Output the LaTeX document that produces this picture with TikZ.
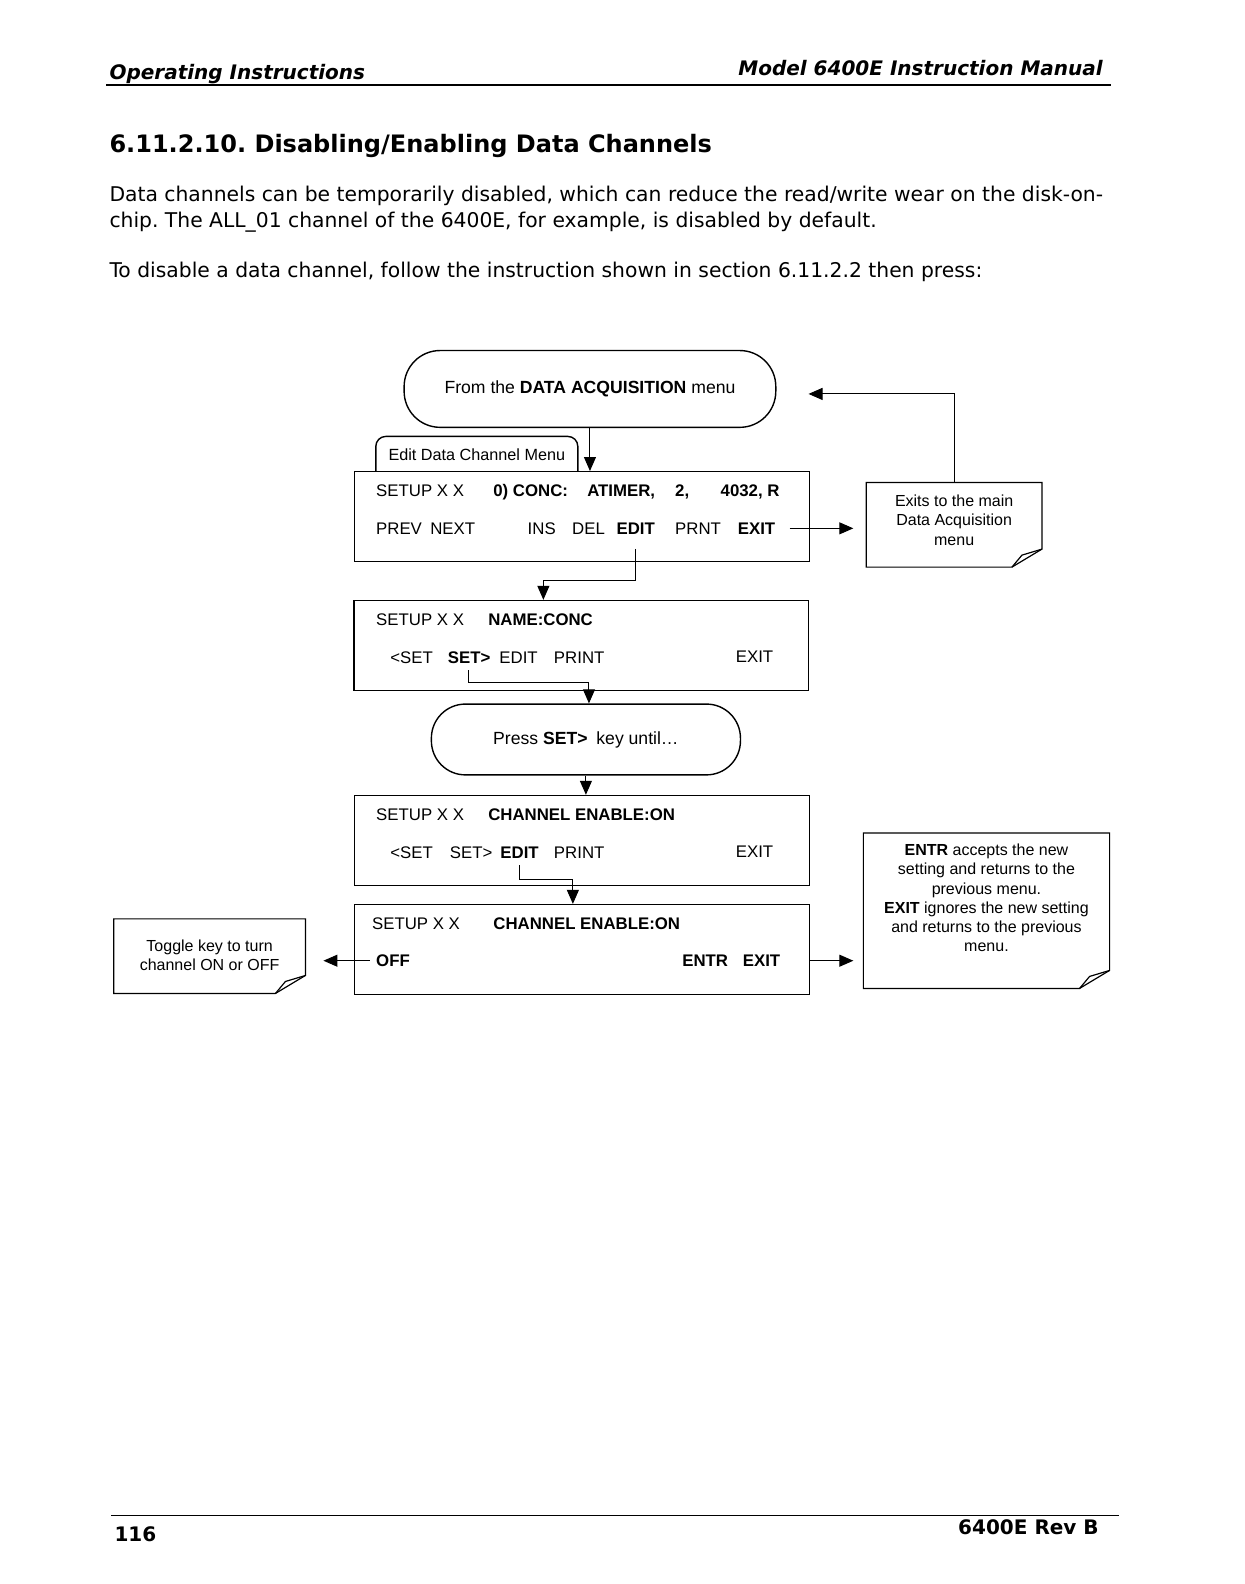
\documentclass[tikz,border=0pt]{standalone}
\usepackage{fontspec}
\setmainfont{DejaVu Sans}[BoldFont={DejaVu Sans Bold},ItalicFont={DejaVu Sans Oblique},BoldItalicFont={DejaVu Sans Bold Oblique}]
\newfontfamily\arialfont{Liberation Sans}
\usetikzlibrary{arrows.meta,calc}
\frenchspacing

\tikzset{
  lcdbox/.style={draw, line width=0.7pt, minimum width=227.3pt, minimum height=45pt, inner sep=0pt},
  ovalbox/.style={draw, line width=0.7pt, rounded corners=18pt, inner sep=0pt, font=\arialfont\fontsize{8.8}{10}\selectfont},
  lcdkey/.style={anchor=west, inner sep=0pt, text height=6pt, text depth=0pt, font=\arialfont\fontsize{8.4}{10}\selectfont},
  lcdbold/.style={lcdkey, font=\arialfont\bfseries\fontsize{8.4}{10}\selectfont},
  notebox/.style={inner sep=0pt},
  notetext/.style={align=center, inner sep=0pt, font=\arialfont\fontsize{8}{9.6}\selectfont},
  noteline/.style={line width=0.6pt},
  arr/.style={line width=0.5pt, -{Triangle[length=7pt,width=6pt]}},
  pagetext/.style={anchor=base west, inner sep=0pt, font=\fontsize{10.15}{12}\selectfont},
}

\begin{document}
\begin{tikzpicture}[x=0.505pt, y=-0.505pt]
\useasboundingbox (0,0) rectangle (1232,1568);

% page header
\node[anchor=base west, inner sep=0pt, font=\bfseries\itshape\fontsize{10}{12}\selectfont] (hleft) at (108,79) {Operating Instructions};
\node[anchor=base east, inner sep=0pt, font=\bfseries\itshape\fontsize{10}{12}\selectfont] (hright) at (1092,75) {Model 6400E Instruction Manual};
\draw[line width=0.7pt] (105,84) -- (1100,84);

% section title and text
\node[anchor=base west, inner sep=0pt, font=\bfseries\fontsize{12}{14}\selectfont] (title) at (108,151) {6.11.2.10. Disabling/Enabling Data Channels};
\node[pagetext] (par1a) at (108,199) {Data channels can be temporarily disabled, which can reduce the read/write wear on the disk-on-};
\node[pagetext] (par1b) at (108,225) {chip. The ALL\_01 channel of the 6400E, for example, is disabled by default.};
\node[pagetext] (par2) at (108,275) {To disable a data channel, follow the instruction shown in section 6.11.2.2 then press:};

% start oval and tab
\node[ovalbox, minimum width=185.8pt, minimum height=38.4pt] (from) at (584,385) {From the \textbf{DATA ACQUISITION} menu};
\draw[line width=0.7pt, rounded corners=5pt] (372,467) |- (572,432) -- (572,467); %tab
\node[lcdkey, anchor=center, font=\arialfont\fontsize{8.1}{10}\selectfont] (tab) at (472,450) {Edit Data Channel Menu};

% first display
\node[lcdbox] (menu1) at (576,511.5) {};
\node[lcdkey] (m1setup) at (372,486) {SETUP X X};
\node[lcdbold] (m1conc) at (488,486) {0) CONC:};
\node[lcdbold] (m1timer) at (581,486) {ATIMER,};
\node[lcdbold] (m1two) at (668,486) {2,};
\node[lcdbold] (m1num) at (713,486) {4032, R};
\node[lcdkey] (m1prev) at (372,523) {PREV\enspace NEXT};
\node[lcdkey] (m1ins) at (522,523) {INS};
\node[lcdkey] (m1del) at (566,523) {DEL};
\node[lcdbold] (m1edit) at (610,523) {EDIT};
\node[lcdkey] (m1prnt) at (668,523) {PRNT};
\node[lcdbold] (m1exit) at (730,523) {EXIT};

% second display
\node[lcdbox] (menu2) at (575.5,639) {};
\node[lcdkey] (m2setup) at (372,613) {SETUP X X};
\node[lcdbold] (m2name) at (483,613) {NAME:CONC};
\node[lcdkey] (m2setl) at (386,651) {<SET};
\node[lcdbold] (m2setr) at (443,651) {SET>};
\node[lcdkey] (m2edit) at (494,651) {EDIT};
\node[lcdkey] (m2print) at (548,651) {PRINT};
\node[lcdkey] (m2exit) at (728,650) {EXIT};

% press oval
\node[ovalbox, rounded corners=17pt, minimum width=154.5pt, minimum height=35.4pt] (press) at (580,732) {Press \textbf{SET>}\enspace key until\ldots};

% third display
\node[lcdbox] (menu3) at (576,832) {};
\node[lcdkey] (m3setup) at (372,806) {SETUP X X};
\node[lcdbold] (m3chan) at (483,806) {CHANNEL ENABLE:ON};
\node[lcdkey] (m3setl) at (386,844) {<SET};
\node[lcdkey] (m3setr) at (445,844) {SET>};
\node[lcdbold] (m3edit) at (495,844) {EDIT};
\node[lcdkey] (m3print) at (548,844) {PRINT};
\node[lcdkey] (m3exit) at (728,843) {EXIT};

% fourth display
\node[lcdbox] (menu4) at (576,940) {};
\node[lcdkey] (m4setup) at (368,914) {SETUP X X};
\node[lcdbold] (m4chan) at (488,914) {CHANNEL ENABLE:ON};
\node[lcdbold] (m4off) at (372,951) {OFF};
\node[lcdbold] (m4entr) at (675,951) {ENTR};
\node[lcdbold] (m4exit) at (735,951) {EXIT};

% notes
\node[notebox, minimum width=87.4pt, minimum height=41.9pt] (exitnote) at (944.5,519.5) {};
\node[notetext] (exittext) at (944.5,515) {Exits to the main\\Data Acquisition\\menu};
\node[notebox, minimum width=122.7pt, minimum height=77.3pt] (entrnote) at (976.5,901.5) {};
\node[notetext] (entrtext) at (976.5,889) {\textbf{ENTR} accepts the new\\setting and returns to the\\previous menu.\\\textbf{EXIT} ignores the new setting\\and returns to the previous\\menu.};
\node[notebox, minimum width=95.4pt, minimum height=36.9pt] (togglenote) at (207.5,946.5) {};
\node[notetext] (toggletext) at (207.5,945.5) {Toggle key to turn\\channel ON or OFF};
\foreach \n in {exitnote,entrnote,togglenote}{
  \draw[noteline] (\n.north west) -- (\n.north east) -- ([yshift=9pt]\n.south east) -- ([xshift=-15pt]\n.south east) -- (\n.south west) -- cycle;
  \draw[noteline] ([xshift=-15pt]\n.south east) -- ([xshift=-10pt,yshift=6pt]\n.south east) -- ([yshift=9pt]\n.south east);
}

% connectors
\draw[arr] (from.south) -- (from.south |- menu1.north);
\draw[arr] ([xshift=7pt]m1exit.east) -- ([xshift=-6.5pt]exitnote.west |- m1exit.east);
\draw[arr] (exitnote.north) |- ([xshift=16pt,yshift=-2.5pt]from.east);
\draw[arr] (m1edit.south) ++(0,14) -- ++(0,31) -| ([xshift=-19pt]menu2.north);
\draw[arr] (m2setr.south) ++(-1,6) -- ++(0,12) -| ([xshift=3.8pt]menu2.south |- press.north);
\draw[arr] (press.south) -- (press.south |- menu3.north);
\draw[arr] (m3edit.south) ++(0,6) -- ++(0,14) -| ([xshift=-4.5pt]menu4.north);
\draw[arr] ([xshift=-3pt]m4off.west) -- ([xshift=9pt]togglenote.east |- m4off.west);
\draw[arr] (menu4.east |- m4exit.east) -- ([xshift=-5pt]entrnote.west |- m4exit.east);

% page footer
\draw[line width=0.7pt] (110,1500) -- (1108,1500);
\node[anchor=base west, inner sep=0pt, font=\bfseries\fontsize{10}{12}\selectfont] (pagenum) at (113,1526) {116};
\node[anchor=base east, inner sep=0pt, font=\bfseries\fontsize{10}{12}\selectfont] (rev) at (1088,1519) {6400E Rev B};
\end{tikzpicture}
\end{document}
